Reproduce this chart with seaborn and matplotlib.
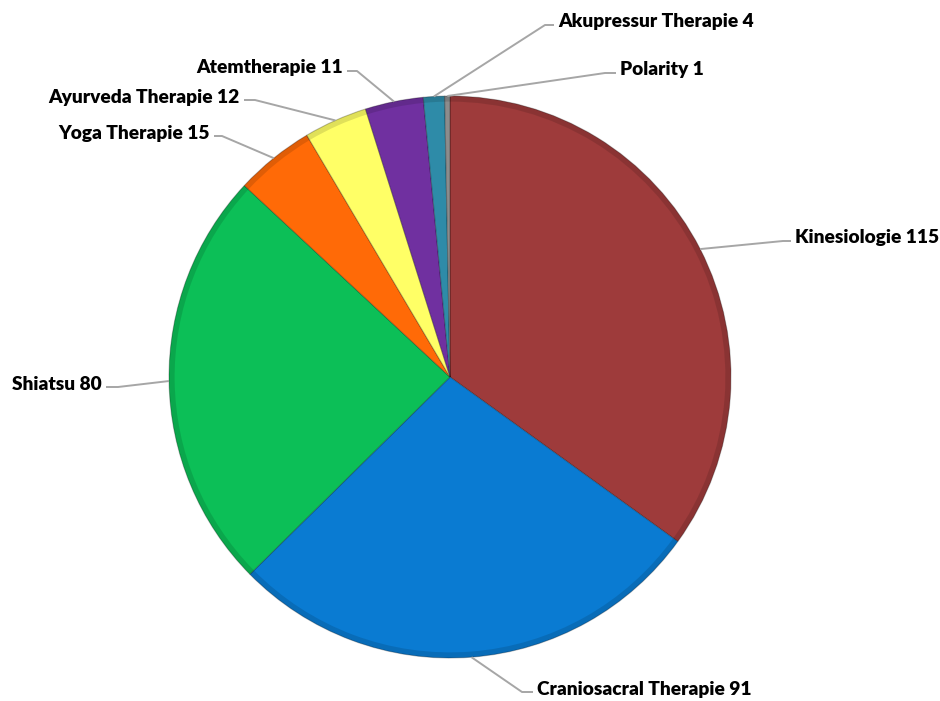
import numpy as np
import matplotlib
matplotlib.use("Agg")
import matplotlib.pyplot as plt
import seaborn as sns

# data ---------------------------------------------------------------
labels = ["Kinesiologie", "Craniosacral Therapie", "Shiatsu", "Yoga Therapie",
          "Ayurveda Therapie", "Atemtherapie", "Akupressur Therapie", "Polarity"]
values = [115, 91, 80, 15, 12, 11, 4, 1]
colours = ["#9E3B3B", "#0A7BD2", "#0CBF57", "#FF6A07", "#FFFF66",
           "#7030A0", "#2E8BA8", "#8C8C8C"]
# --------------------------------------------------------------------

sns.set_theme(style="white")
plt.rcParams['font.family'] = ['Lato', 'DejaVu Sans']

W, H = 940, 701
cx, cy, R = 450, 377, 281

fig = plt.figure(figsize=(W / 100, H / 100), dpi=100)
ax = fig.add_axes([0, 0, 1, 1])


def px(x, y):
    return (x - cx) / R, (cy - y) / R


wedges, _ = ax.pie(values, colors=colours, startangle=90, counterclock=False,
                   radius=1, center=(0, 0),
                   wedgeprops=dict(edgecolor=(0, 0, 0, 0.25), linewidth=0.8))

ax.set_xlim(-cx / R, (W - cx) / R)
ax.set_ylim(-(H - cy) / R, cy / R)
ax.set_aspect('equal')
ax.axis('off')

# subtle bevel: darker rim
for w in wedges:
    ax.add_patch(matplotlib.patches.Wedge((0, 0), 1, w.theta1, w.theta2, width=0.02,
                                          facecolor='black', alpha=0.12, linewidth=0))

# label layout (pixels): text anchor, elbow x, side
layout = {
    "Kinesiologie": ((795, 238), 783, 'left'),
    "Craniosacral Therapie": ((537, 689), 522, 'left'),
    "Shiatsu": ((102, 384), 118, 'right'),
    "Yoga Therapie": ((210, 133), 222, 'right'),
    "Ayurveda Therapie": ((240, 97), 255, 'right'),
    "Atemtherapie": ((343, 68), 357, 'right'),
    "Akupressur Therapie": ((558, 22), 545, 'left'),
    "Polarity": ((620, 70), 605, 'left'),
}

for w, lab, v in zip(wedges, labels, values):
    ang = np.deg2rad((w.theta1 + w.theta2) / 2)
    x0, y0 = np.cos(ang), np.sin(ang)
    (tx, ty), ex, side = layout[lab]
    ly = ty + 3
    gap = 4 if side == 'left' else -4
    xs = [x0, px(ex, ly)[0], px(tx - gap, ly)[0]]
    ys = [y0, px(ex, ly)[1], px(tx - gap, ly)[1]]
    ax.plot(xs, ys, color="#A6A6A6", lw=1.4, solid_capstyle='butt')
    ax.text(*px(tx, ty), f"{lab} {v}", ha=side, va='center',
            fontsize=13.8, fontweight='heavy', color='black')

fig.savefig("out.png", dpi=100)
